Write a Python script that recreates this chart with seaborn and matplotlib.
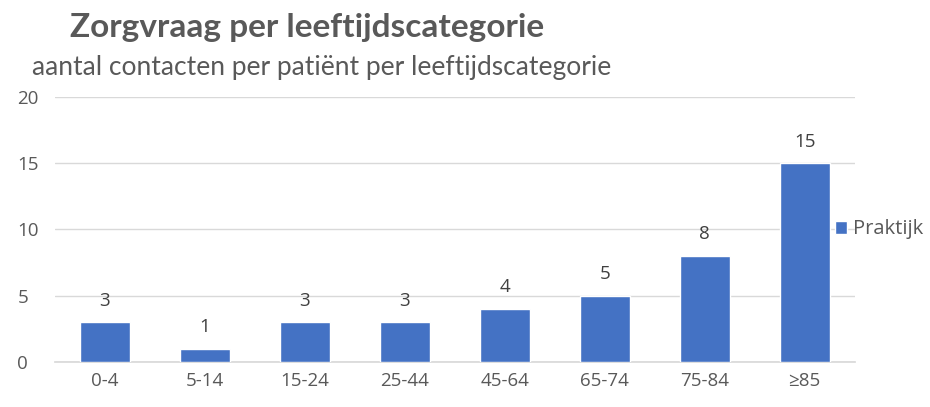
import matplotlib
matplotlib.use("Agg")
import matplotlib.pyplot as plt
import seaborn as sns
import pandas as pd

# data
categories = ["0-4", "5-14", "15-24", "25-44", "45-64", "65-74", "75-84", "≥85"]
praktijk = [3, 1, 3, 3, 4, 5, 8, 15]

df = pd.DataFrame({"leeftijd": categories, "contacten": praktijk})

sns.set_theme(style="white")
plt.rcParams["font.family"] = ["Open Sans", "DejaVu Sans"]

fig = plt.figure(figsize=(9.3, 4.07), dpi=100)
ax = fig.add_axes([0.059, 0.111, 0.86, 0.651])

sns.barplot(data=df, x="leeftijd", y="contacten", color="#4472C4",
            width=0.5, saturation=1, ax=ax, label="Praktijk", zorder=3)

ax.set_ylim(0, 20)
ax.set_yticks([0, 5, 10, 15, 20])
ax.yaxis.grid(True, color="#D9D9D9", linewidth=1, zorder=0)
ax.set_axisbelow(True)
for s in ["top", "right", "left"]:
    ax.spines[s].set_visible(False)
ax.spines["bottom"].set_color("#D9D9D9")
ax.tick_params(axis="both", length=0, labelsize=13.5, colors="#595959", pad=7)
ax.tick_params(axis="y", pad=27)
for lbl in ax.get_yticklabels():
    lbl.set_horizontalalignment("left")
ax.set_xlabel("")
ax.set_ylabel("")

for c in ax.containers:
    ax.bar_label(c, padding=9, fontsize=13.5, color="#404040")

leg = ax.legend(loc="center left", bbox_to_anchor=(0.975, 0.5), frameon=False,
                fontsize=14.5, handlelength=0.6, handleheight=0.6, handletextpad=0.3,
                borderaxespad=0, borderpad=0, labelcolor="#595959")

fig.text(0.075, 0.91, "Zorgvraag per leeftijdscategorie", fontsize=24,
         fontweight="bold", color="#595959", family=["Lato", "DejaVu Sans"])
fig.text(0.034, 0.815, "aantal contacten per patiënt per leeftijdscategorie",
         fontsize=19, color="#595959", family=["Lato", "DejaVu Sans"])

fig.savefig("out.png", dpi=100)
